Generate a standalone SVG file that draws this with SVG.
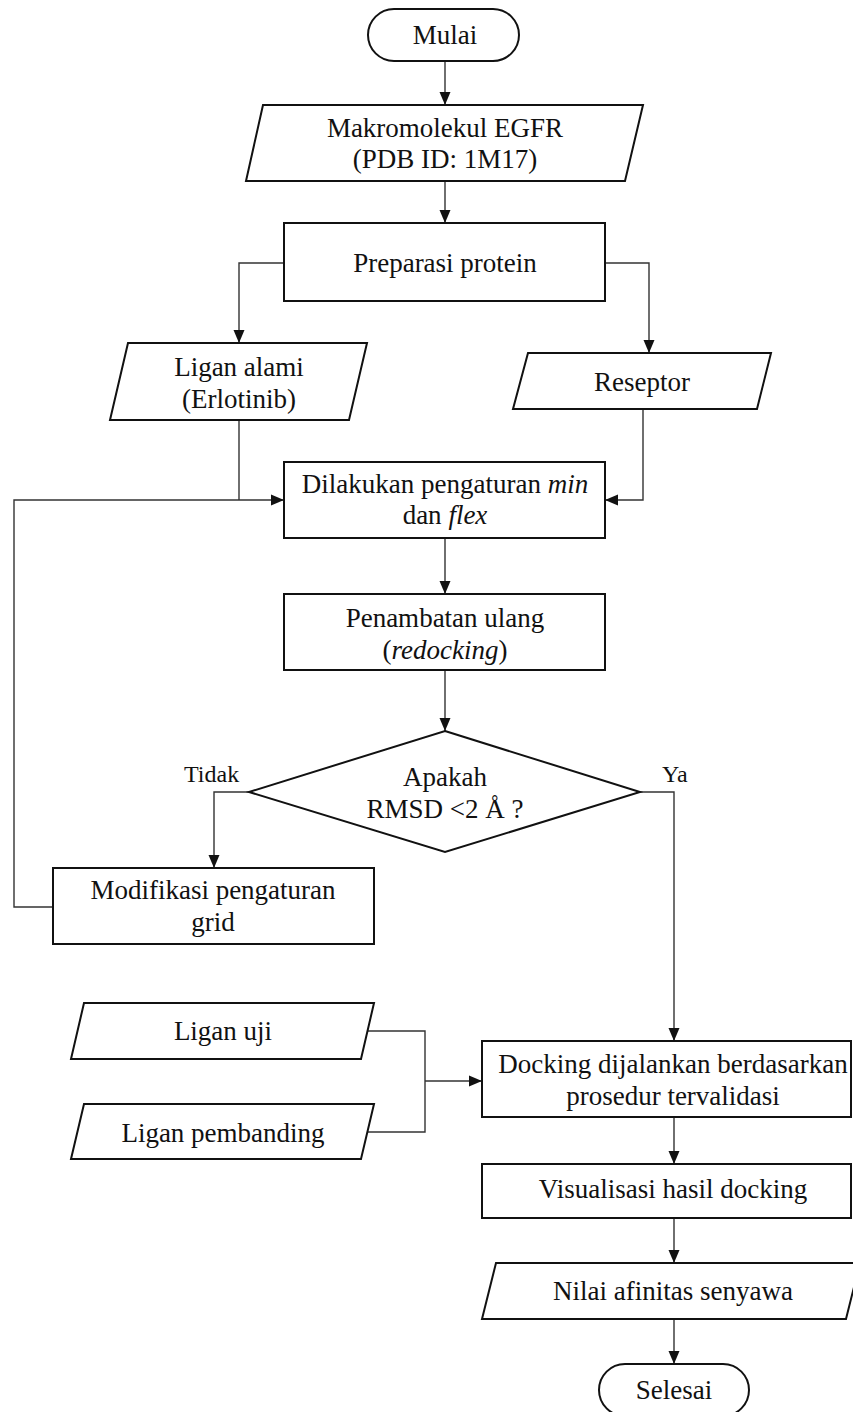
<svg xmlns="http://www.w3.org/2000/svg" width="853" height="1412" viewBox="0 0 853 1412">
<style>
.box{fill:#fff;stroke:#111;stroke-width:2}
.conn{fill:none;stroke:#333;stroke-width:1.4}
text{font-family:'Liberation Serif','Times New Roman',serif;font-size:27px;fill:#111;text-anchor:middle}
.lbl{font-size:24px;text-anchor:start}
</style>
<defs>
<marker id="arr" markerUnits="userSpaceOnUse" markerWidth="14" markerHeight="14" viewBox="0 0 14 14" refX="13" refY="7" orient="auto">
<path d="M0,1.5 L13,7 L0,12.5 Z" fill="#111"/>
</marker>
</defs>
<rect width="853" height="1412" fill="#fff"/>
<g id="connectors">
<path class="conn" d="M445,61 V105" marker-end="url(#arr)"/>
<path class="conn" d="M445,181 V223" marker-end="url(#arr)"/>
<path class="conn" d="M284,263 H239 V343" marker-end="url(#arr)"/>
<path class="conn" d="M605,263 H649 V353" marker-end="url(#arr)"/>
<path class="conn" d="M239,420 V500"/>
<path class="conn" d="M53,907 H14 V500 H284" marker-end="url(#arr)"/>
<path class="conn" d="M643,409 V500 H605" marker-end="url(#arr)"/>
<path class="conn" d="M445,538 V594" marker-end="url(#arr)"/>
<path class="conn" d="M445,670 V731" marker-end="url(#arr)"/>
<path class="conn" d="M249,792 H214 V868" marker-end="url(#arr)"/>
<path class="conn" d="M640,792 H674 V1041" marker-end="url(#arr)"/>
<path class="conn" d="M368,1031 H425 V1132 H368"/>
<path class="conn" d="M425,1081 H482" marker-end="url(#arr)"/>
<path class="conn" d="M674,1117 V1164" marker-end="url(#arr)"/>
<path class="conn" d="M674,1218 V1263" marker-end="url(#arr)"/>
<path class="conn" d="M674,1319 V1364" marker-end="url(#arr)"/>
</g>
<g id="mulai">
<rect class="box" x="368" y="9" width="151" height="52" rx="26"/>
<text x="445" y="44">Mulai</text>
</g>
<g id="makromolekul">
<polygon class="box" points="263,105 643,105 625,181 246,181"/>
<text x="445" y="137">Makromolekul EGFR</text>
<text x="445" y="168">(PDB ID: 1M17)</text>
</g>
<g id="preparasi">
<rect class="box" x="284" y="223" width="321" height="78"/>
<text x="445" y="272">Preparasi protein</text>
</g>
<g id="ligan-alami">
<polygon class="box" points="128,343 367,343 349,420 110,420"/>
<text x="239" y="376">Ligan alami</text>
<text x="239" y="408">(Erlotinib)</text>
</g>
<g id="reseptor">
<polygon class="box" points="528,353 771,353 757,409 513,409"/>
<text x="642" y="391">Reseptor</text>
</g>
<g id="dilakukan">
<rect class="box" x="284" y="462" width="321" height="76"/>
<text x="445" y="493">Dilakukan pengaturan <tspan font-style="italic">min</tspan></text>
<text x="445" y="524">dan <tspan font-style="italic">flex</tspan></text>
</g>
<g id="penambatan">
<rect class="box" x="284" y="594" width="321" height="76"/>
<text x="445" y="627">Penambatan ulang</text>
<text x="445" y="659">(<tspan font-style="italic">redocking</tspan>)</text>
</g>
<g id="keputusan">
<polygon class="box" points="445,731 640,792 445,852 249,792"/>
<text x="445" y="786">Apakah</text>
<text x="445" y="818">RMSD &lt;2 Å ?</text>
<text class="lbl" x="184" y="782">Tidak</text>
<text class="lbl" x="662" y="782">Ya</text>
</g>
<g id="modifikasi">
<rect class="box" x="53" y="868" width="321" height="76"/>
<text x="213" y="899">Modifikasi pengaturan</text>
<text x="213" y="931">grid</text>
</g>
<g id="ligan-uji">
<polygon class="box" points="84,1003 374,1003 361,1059 71,1059"/>
<text x="223" y="1040">Ligan uji</text>
</g>
<g id="ligan-pembanding">
<polygon class="box" points="84,1104 374,1104 361,1159 71,1159"/>
<text x="223" y="1142">Ligan pembanding</text>
</g>
<g id="docking">
<rect class="box" x="482" y="1041" width="369" height="76"/>
<text x="673" y="1073">Docking dijalankan berdasarkan</text>
<text x="673" y="1105">prosedur tervalidasi</text>
</g>
<g id="visualisasi">
<rect class="box" x="482" y="1164" width="369" height="54"/>
<text x="673" y="1198">Visualisasi hasil docking</text>
</g>
<g id="nilai">
<polygon class="box" points="496,1263 860,1263 846,1319 482,1319"/>
<text x="673" y="1300">Nilai afinitas senyawa</text>
</g>
<g id="selesai">
<rect class="box" x="599" y="1364" width="150" height="52" rx="26"/>
<text x="674" y="1399">Selesai</text>
</g>
</svg>
